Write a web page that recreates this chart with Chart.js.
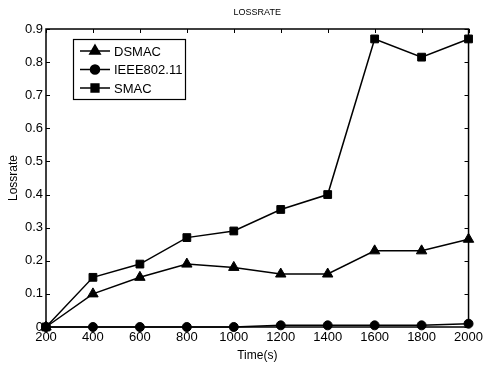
<!DOCTYPE html>
<html>
<head>
<meta charset="utf-8">
<script src="https://cdn.jsdelivr.net/npm/chart.js@4"></script>
<style>
  html, body { margin: 0; padding: 0; background: #fff; }
  #wrap { width: 486px; height: 365px; }
</style>
</head>
<body>
<div id="wrap"><canvas id="chart" width="486" height="365"></canvas></div>
<script>
// values
const times = [200, 400, 600, 800, 1000, 1200, 1400, 1600, 1800, 2000];
const dsmac = [0, 0.10, 0.15, 0.19, 0.18, 0.16, 0.16, 0.23, 0.23, 0.265];
const ieee = [0, 0, 0, 0, 0, 0.005, 0.005, 0.005, 0.005, 0.01];
const smac = [0, 0.15, 0.19, 0.27, 0.29, 0.355, 0.40, 0.87, 0.815, 0.87];
const yTicks = [0, 0.1, 0.2, 0.3, 0.4, 0.5, 0.6, 0.7, 0.8, 0.9];

const FONT = '"Liberation Sans", Arial, sans-serif';

function toPoints(ys) {
    return times.map((t, i) => ({ x: t, y: ys[i] }));
}

// inward ticks on all four sides, plus box, title and legend
const matlabBox = {
    id: 'matlabBox',
    afterDatasetsDraw(chart) {
        const ctx = chart.ctx;
        const a = chart.chartArea;
        const xs = chart.scales.x, ys = chart.scales.y;
        ctx.save();
        ctx.strokeStyle = '#000';
        ctx.lineWidth = 1;
        ctx.beginPath();
        times.forEach(t => {
            const px = Math.round(xs.getPixelForValue(t)) + 0.5;
            ctx.moveTo(px, a.bottom); ctx.lineTo(px, a.bottom - 4);
            ctx.moveTo(px, a.top); ctx.lineTo(px, a.top + 4);
        });
        yTicks.forEach(v => {
            const py = Math.round(ys.getPixelForValue(v)) + 0.5;
            ctx.moveTo(a.left, py); ctx.lineTo(a.left + 4, py);
            ctx.moveTo(a.right, py); ctx.lineTo(a.right - 4, py);
        });
        ctx.stroke();
        ctx.lineWidth = 1.5;
        ctx.strokeRect(a.left, a.top, a.right - a.left, a.bottom - a.top);

        // title
        ctx.fillStyle = '#000';
        ctx.font = '9px ' + FONT;
        ctx.textAlign = 'center';
        ctx.textBaseline = 'middle';
        ctx.fillText('LOSSRATE', (a.left + a.right) / 2, 13);

        // legend
        const lx = 73, ly = 39, lw = 112, lh = 60;
        ctx.fillStyle = '#fff';
        ctx.fillRect(lx, ly, lw, lh);
        ctx.lineWidth = 1.2;
        ctx.strokeRect(lx + 0.5, ly + 0.5, lw, lh);
        const entries = chart.data.datasets;
        entries.forEach((ds, i) => {
            const cy = ly + 12 + i * 18.5;
            ctx.strokeStyle = '#000';
            ctx.lineWidth = 1.5;
            ctx.beginPath();
            ctx.moveTo(lx + 7, cy); ctx.lineTo(lx + 37, cy);
            ctx.stroke();
            Chart.helpers.drawPoint(ctx, {
                pointStyle: ds.pointStyle,
                radius: ds.pointRadius,
                rotation: 0,
                borderWidth: 1
            }, lx + 22, cy);
            ctx.fillStyle = '#000';
            ctx.fill();
            ctx.font = '13px ' + FONT;
            ctx.textAlign = 'left';
            ctx.textBaseline = 'middle';
            ctx.fillText(ds.label, lx + 41, cy + 1);
        });
        ctx.restore();
    }
};

const common = {
    borderColor: '#000',
    backgroundColor: '#000',
    pointBorderColor: '#000',
    pointBackgroundColor: '#000',
    borderWidth: 1.5,
    pointBorderWidth: 1,
    tension: 0,
    clip: false
};

new Chart(document.getElementById('chart'), {
    type: 'line',
    data: {
        datasets: [
            Object.assign({ label: 'DSMAC', data: toPoints(dsmac), pointStyle: 'triangle', pointRadius: 6 }, common),
            Object.assign({ label: 'IEEE802.11', data: toPoints(ieee), pointStyle: 'circle', pointRadius: 4.5 }, common),
            Object.assign({ label: 'SMAC', data: toPoints(smac), pointStyle: 'rect', pointRadius: 5.5 }, common)
        ]
    },
    options: {
        responsive: false,
        animation: false,
        devicePixelRatio: 1,
        layout: { padding: { top: 29, right: 13, left: 0, bottom: 0 } },
        plugins: {
            legend: { display: false },
            title: { display: false },
            tooltip: { enabled: false }
        },
        scales: {
            x: {
                type: 'linear',
                min: 200, max: 2000,
                grid: { display: false, drawTicks: false },
                border: { display: false },
                afterBuildTicks: s => { s.ticks = times.map(v => ({ value: v })); },
                afterFit: s => { s.height = 38; },
                ticks: { color: '#000', font: { family: FONT, size: 13 }, padding: 3, maxRotation: 0, autoSkip: false, callback: v => String(v) },
                title: { display: true, text: 'Time(s)', color: '#000', font: { family: FONT, size: 12 }, padding: { top: 0, bottom: 2 } }
            },
            y: {
                min: 0, max: 0.9,
                grid: { display: false, drawTicks: false },
                border: { display: false },
                afterBuildTicks: s => { s.ticks = yTicks.map(v => ({ value: v })); },
                afterFit: s => { s.width = 46; },
                ticks: { color: '#000', font: { family: FONT, size: 13 }, padding: 3, callback: v => String(+v.toFixed(1)) },
                title: { display: true, text: 'Lossrate', color: '#000', font: { family: FONT, size: 12 }, padding: { top: 6, bottom: 0 } }
            }
        }
    },
    plugins: [matlabBox]
});
</script>
</body>
</html>
